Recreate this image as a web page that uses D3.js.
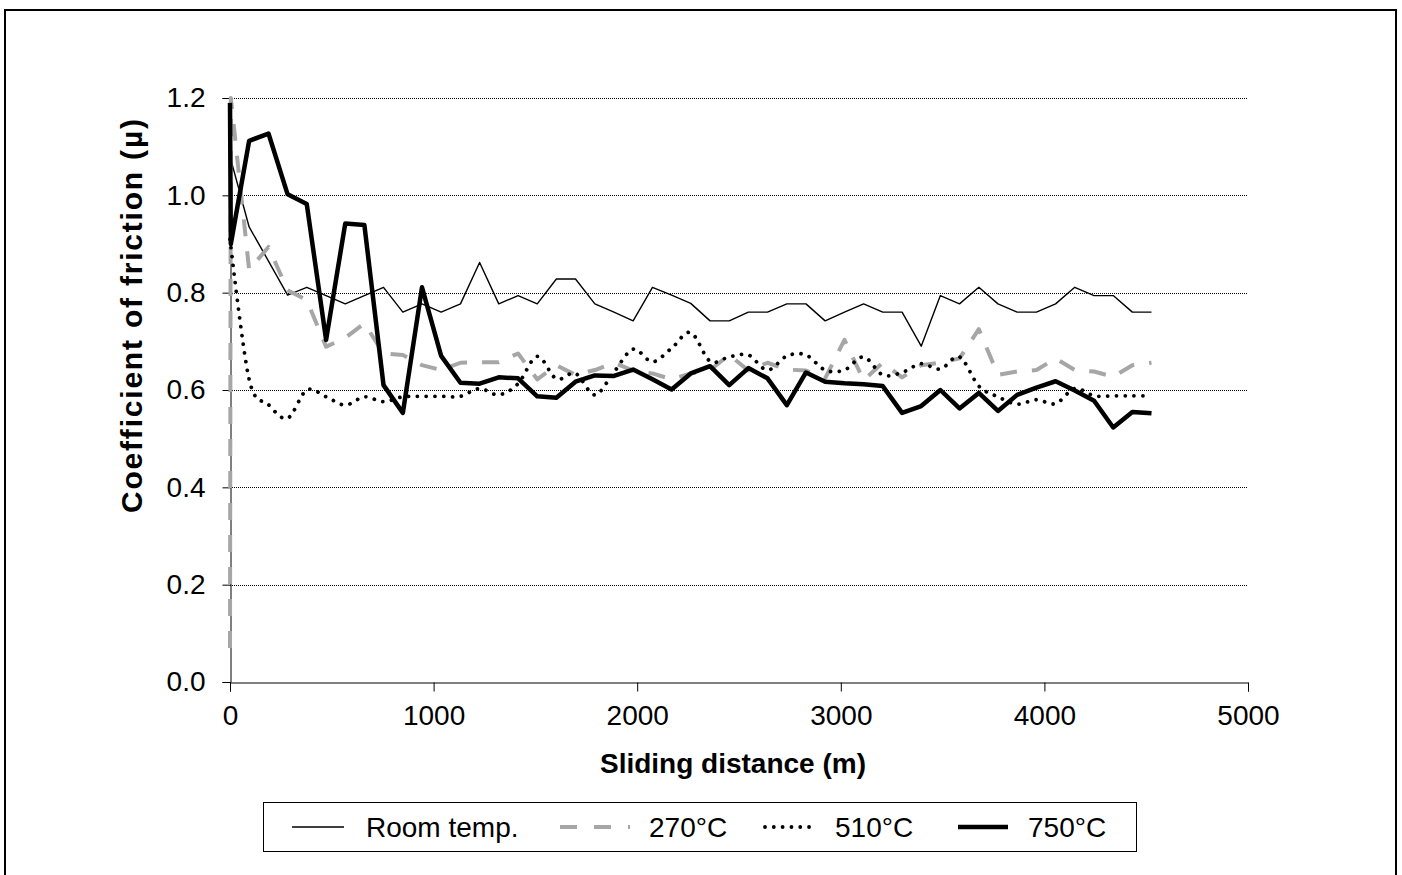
<!DOCTYPE html>
<html>
<head>
<meta charset="utf-8">
<script src="https://cdn.jsdelivr.net/npm/d3@7"></script>
<style>
  html, body { margin: 0; padding: 0; background: #fff; }
  svg { display: block; font-family: "Liberation Sans", Arial, sans-serif; }
</style>
</head>
<body>
<svg id="chart" width="1402" height="875"></svg>
<script>
// ---- data ----
const distance = [0, 4, 94, 189, 283, 377, 472, 566, 660, 754, 849, 943, 1037, 1132, 1226, 1320, 1415, 1509, 1603, 1697, 1792, 1886, 1980, 2075, 2169, 2263, 2358, 2452, 2546, 2640, 2735, 2829, 2923, 3018, 3112, 3206, 3301, 3395, 3489, 3583, 3678, 3772, 3866, 3961, 4055, 4149, 4244, 4338, 4432, 4526];
const roomTemp = [1.08, null, 0.935, 0.865, 0.795, 0.811, 0.794, 0.777, 0.794, 0.811, 0.760, 0.777, 0.760, 0.777, 0.862, 0.777, 0.794, 0.777, 0.828, 0.828, 0.777, 0.760, 0.742, 0.811, 0.795, 0.778, 0.742, 0.742, 0.760, 0.760, 0.777, 0.777, 0.742, 0.760, 0.777, 0.760, 0.760, 0.690, 0.794, 0.777, 0.811, 0.777, 0.760, 0.760, 0.777, 0.811, 0.794, 0.794, 0.760, 0.760];
const temp270 = [0.07, 1.20, 0.847, 0.894, 0.805, 0.785, 0.689, 0.707, 0.737, 0.675, 0.672, 0.651, 0.641, 0.656, 0.657, 0.657, 0.675, 0.622, 0.651, 0.631, 0.641, 0.656, 0.640, 0.634, 0.622, 0.634, 0.641, 0.672, 0.640, 0.656, 0.642, 0.640, 0.624, 0.703, 0.620, 0.656, 0.626, 0.651, 0.656, 0.665, 0.725, 0.631, 0.638, 0.641, 0.665, 0.641, 0.638, 0.627, 0.651, 0.656];
const temp510 = [0.91, null, 0.622, 0.570, 0.542, 0.600, 0.586, 0.569, 0.586, 0.576, 0.586, 0.587, 0.587, 0.587, 0.603, 0.590, 0.613, 0.669, 0.623, 0.634, 0.590, 0.637, 0.684, 0.658, 0.686, 0.718, 0.659, 0.668, 0.672, 0.641, 0.670, 0.672, 0.641, 0.641, 0.668, 0.631, 0.636, 0.654, 0.643, 0.668, 0.608, 0.586, 0.571, 0.580, 0.572, 0.603, 0.588, 0.588, 0.588, 0.588];
const temp750 = [1.19, 0.90, 1.112, 1.127, 1.002, 0.982, 0.703, 0.942, 0.939, 0.610, 0.553, 0.811, 0.670, 0.615, 0.613, 0.626, 0.624, 0.587, 0.584, 0.617, 0.630, 0.629, 0.642, 0.622, 0.601, 0.634, 0.649, 0.610, 0.645, 0.624, 0.569, 0.636, 0.617, 0.614, 0.612, 0.608, 0.553, 0.567, 0.600, 0.562, 0.594, 0.557, 0.590, 0.605, 0.618, 0.599, 0.578, 0.523, 0.555, 0.552];
const seriesNames = ["Room temp.", "270°C", "510°C", "750°C"];
const xTicks = [0, 1000, 2000, 3000, 4000, 5000];
const yTicks = [0, 0.2, 0.4, 0.6, 0.8, 1.0, 1.2];
const xTitle = "Sliding distance (m)";
const yTitle = "Coefficient of friction (µ)";

// ---- styles ----
const styles = [
  { color: "#000", width: 1.4, dash: null, cap: "butt", curve: d3.curveLinear },
  { color: "#a6a6a6", width: 4, dash: "17,15", cap: "butt", curve: d3.curveLinear },
  { color: "#000", width: 3.8, dash: "0.01,8.8", cap: "round", curve: d3.curveCardinal.tension(0) },
  { color: "#000", width: 4.5, dash: null, cap: "butt", curve: d3.curveLinear }
];
const seriesValues = [roomTemp, temp270, temp510, temp750];

const svg = d3.select("#chart");
const FONT = 28;

// outer frame
svg.append("rect").attr("x", 5).attr("y", 10).attr("width", 1391).attr("height", 890)
  .attr("fill", "none").attr("stroke", "#000").attr("stroke-width", 2);

const x = d3.scaleLinear().domain([0, 5000]).range([230, 1248]);
const y = d3.scaleLinear().domain([0, 1.2]).range([682, 98]);

// gridlines
svg.append("g").selectAll("line").data(yTicks.filter(d => d > 0)).join("line")
  .attr("x1", x(0)).attr("x2", x(5000))
  .attr("y1", d => Math.round(y(d)) + 0.5).attr("y2", d => Math.round(y(d)) + 0.5)
  .attr("stroke", "#000").attr("stroke-width", 1).attr("stroke-dasharray", "1,1");

// y axis
const yAxis = d3.axisLeft(y).tickValues(yTicks).tickFormat(d3.format(".1f")).tickSize(8).tickPadding(17);
const gy = svg.append("g").attr("transform", `translate(${x(0) + 0.5},0)`).call(yAxis);
gy.select(".domain").attr("stroke", "#000");
gy.selectAll(".tick line").attr("stroke", "#000");
gy.selectAll("text").attr("font-size", FONT).attr("font-family", "Liberation Sans, Arial, sans-serif").attr("fill", "#000");

// x axis
const xAxis = d3.axisBottom(x).tickValues(xTicks).tickFormat(d3.format("d")).tickSize(9).tickPadding(14);
const gx = svg.append("g").attr("transform", `translate(0,${y(0) + 0.5})`).call(xAxis);
gx.select(".domain").attr("stroke", "#000");
gx.selectAll(".tick line").attr("stroke", "#000");
gx.selectAll("text").attr("font-size", FONT).attr("font-family", "Liberation Sans, Arial, sans-serif").attr("fill", "#000");

// series
seriesValues.forEach((vals, k) => {
  const pts = distance.map((d, i) => [d, vals[i]]).filter(p => p[1] !== null);
  const st = styles[k];
  const line = d3.line().x(p => x(p[0])).y(p => y(p[1])).curve(st.curve);
  svg.append("path").datum(pts).attr("d", line)
    .attr("fill", "none").attr("stroke", st.color).attr("stroke-width", st.width)
    .attr("stroke-dasharray", st.dash).attr("stroke-linecap", st.cap).attr("stroke-linejoin", "round");
});

// axis titles
svg.append("text").attr("x", 733).attr("y", 773).attr("text-anchor", "middle")
  .attr("font-size", FONT).attr("font-weight", "bold").text(xTitle);
svg.append("text").attr("transform", "translate(142,316) rotate(-90)").attr("text-anchor", "middle")
  .attr("font-size", 30).attr("font-weight", "bold")
  .attr("textLength", 394).attr("lengthAdjust", "spacing").text(yTitle);

// legend
svg.append("rect").attr("x", 263.5).attr("y", 802.5).attr("width", 873).attr("height", 49)
  .attr("fill", "#fff").attr("stroke", "#000").attr("stroke-width", 1);
const legendSample = [[292, 344], [560, 630], [765, 813], [958, 1008]];
const legendText = [366, 649, 835, 1028];
seriesNames.forEach((name, k) => {
  const st = styles[k];
  svg.append("line").attr("x1", legendSample[k][0]).attr("x2", legendSample[k][1])
    .attr("y1", 827).attr("y2", 827)
    .attr("stroke", st.color).attr("stroke-width", st.width)
    .attr("stroke-dasharray", k === 1 ? "17,17" : st.dash).attr("stroke-linecap", st.cap);
  svg.append("text").attr("x", legendText[k]).attr("y", 837).attr("font-size", FONT).text(name);
});
</script>
</body>
</html>
